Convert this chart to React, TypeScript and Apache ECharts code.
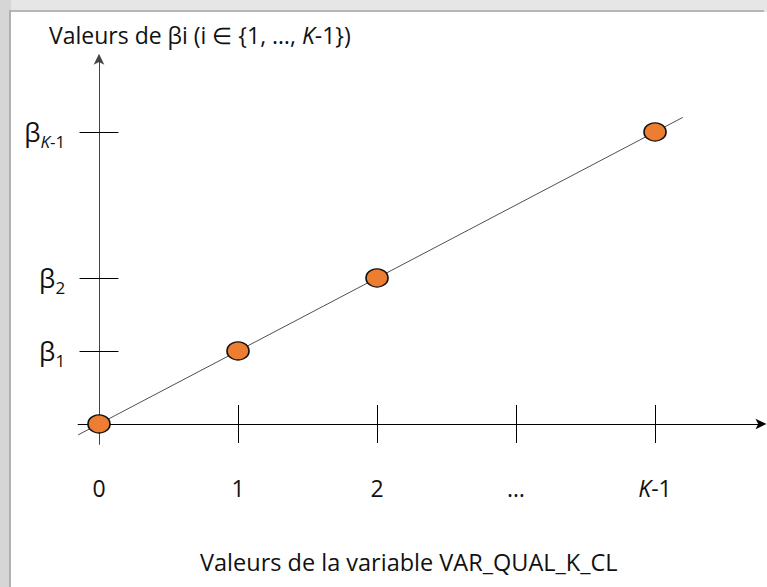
import React, { useEffect, useRef } from "react";
import * as echarts from "echarts";

// ---- data ----
const pointX = [0, 1, 2, 4];
const pointY = [0, 1, 2, 4];
const lineExtent = [-0.15, 4.2];
const xTickValues = [0, 1, 2, 3, 4];
const xTickLabels = ["0", "1", "2", "…", "{i|K}-1"];
const yTickValues = [1, 2, 4];
const yTickLabels = ["β{s|1}", "β{s|2}", "β{si|K}{s|-1}"];
const xTickMarks = [1, 2, 3, 4];
const yTickMarks = [1, 2, 4];
const yTitle = "Valeurs de βi (i ∈ {1, …, {i|K}-1})";
const xTitle = "Valeurs de la variable VAR_QUAL_K_CL";

const FONT = "Open Sans";
const FS = 23;

export default function App() {
  const ref = useRef<HTMLDivElement>(null);
  useEffect(() => {
    if (!ref.current) return;
    const chart = echarts.init(ref.current, null, { renderer: "svg" });
    const tickHalfY = 0.26;
    const tickHalfX = 0.14;
    const markData: any[] = [];
    xTickMarks.forEach((x) => {
      markData.push([{ coord: [x, -tickHalfY] }, { coord: [x, tickHalfY] }]);
    });
    yTickMarks.forEach((y) => {
      markData.push([{ coord: [-tickHalfX, y] }, { coord: [tickHalfX, y] }]);
    });
    const option: any = {
      animation: false,
      backgroundColor: "#ffffff",
      textStyle: { fontFamily: FONT },
      title: {
        text: yTitle,
        left: 44,
        top: 18,
        textStyle: {
          fontFamily: FONT,
          fontSize: FS,
          fontWeight: "normal",
          color: "#111",
          rich: {
            i: { fontFamily: FONT, fontSize: FS, fontStyle: "italic", color: "#111" },
          },
        },
      },
      graphic: [
        { type: "rect", shape: { x: 0, y: 0, width: 767, height: 12 }, style: { fill: "#e6e6e6" }, silent: true },
        { type: "rect", shape: { x: 0, y: 0, width: 11, height: 587 }, style: { fill: "#d6d6d6" }, silent: true },
        { type: "rect", shape: { x: 9, y: 10, width: 755, height: 2 }, style: { fill: "#b6b6b6" }, silent: true },
        { type: "rect", shape: { x: 9, y: 10, width: 2, height: 577 }, style: { fill: "#b0b0b0" }, silent: true },
      ],
      grid: { left: 78.15, top: 56.8, width: 685.3, height: 387.6, containLabel: false, outerBoundsMode: "none" },
      xAxis: {
        type: "value",
        min: -0.15,
        max: 4.78,
        splitLine: { show: false },
        axisTick: { show: false },
        axisLine: {
          onZero: true,
          symbol: ["none", "arrow"],
          symbolSize: [8, 11],
          symbolOffset: [0, 3],
          lineStyle: { color: "#000", width: 1 },
        },
        axisLabel: {
          customValues: xTickValues,
          margin: 32,
          fontFamily: FONT,
          fontSize: FS,
          color: "#111",
          formatter: (v: number) => xTickLabels[xTickValues.indexOf(v)] ?? "",
          rich: { i: { fontFamily: FONT, fontSize: FS, fontStyle: "italic", color: "#111" } },
        },
        name: xTitle,
        nameLocation: "middle",
        nameGap: 106,
        nameTextStyle: { fontFamily: FONT, fontSize: 23.5, color: "#111", padding: [0, 24, 0, 0] },
      },
      yAxis: {
        type: "value",
        min: -0.28,
        max: 5.03,
        splitLine: { show: false },
        axisTick: { show: false },
        axisLine: {
          onZero: true,
          symbol: ["none", "arrow"],
          symbolSize: [8, 11],
          symbolOffset: [0, 3],
          lineStyle: { color: "#444", width: 1 },
        },
        axisLabel: {
          customValues: yTickValues,
          margin: 13,
          fontFamily: FONT,
          fontSize: 26,
          color: "#111",
          formatter: (v: number) => yTickLabels[yTickValues.indexOf(v)] ?? "",
          rich: {
            s: { fontFamily: FONT, fontSize: 17, color: "#111", padding: [19, 0, 0, 0] },
            si: { fontFamily: FONT, fontSize: 17, fontStyle: "italic", color: "#111", padding: [19, 0, 0, 0] },
          },
        },
      },
      series: [
        {
          type: "line",
          data: [
            [lineExtent[0], lineExtent[0]],
            [lineExtent[1], lineExtent[1]],
          ],
          symbol: "none",
          lineStyle: { color: "#505050", width: 1 },
          silent: true,
          z: 2,
          markLine: {
            silent: true,
            symbol: ["none", "none"],
            label: { show: false },
            lineStyle: { color: "#000", width: 1, type: "solid" },
            data: markData,
          },
        },
        {
          type: "scatter",
          data: pointX.map((x, i) => [x, pointY[i]]),
          symbol: "circle",
          symbolSize: [22, 18],
          itemStyle: { color: "#ED7D31", borderColor: "#111", borderWidth: 1.5, opacity: 1 },
          z: 5,
        },
      ],
    };
    chart.setOption(option);
    return () => chart.dispose();
  }, []);
  return (
    <div
      ref={ref}
      style={{ position: "fixed", left: 0, top: 0, width: 767, height: 587, background: "#fff" }}
    />
  );
}
